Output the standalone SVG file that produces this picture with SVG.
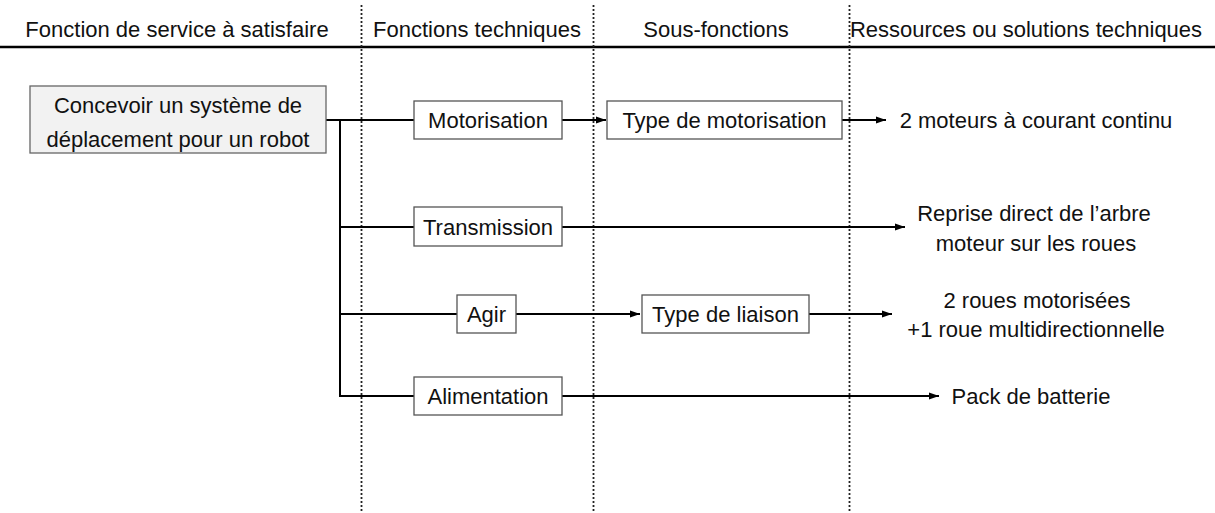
<svg xmlns="http://www.w3.org/2000/svg" width="1215" height="513" viewBox="0 0 1215 513">
<style>
text{font-family:"Liberation Sans",Arial,sans-serif;font-size:22px;fill:#111;text-anchor:middle}
.box{fill:#fff;stroke:#555;stroke-width:1.3}
.main{fill:#f2f2f2;stroke:#666;stroke-width:1.3}
.dot{stroke:#222;stroke-width:1.8;stroke-dasharray:2 2;fill:none}
.con{stroke:#000;stroke-width:2;fill:none}
</style>
<defs>
<marker id="ah" viewBox="0 0 10 10" refX="10" refY="5" markerWidth="10" markerHeight="10" markerUnits="userSpaceOnUse" orient="auto">
<path d="M0,1.5 L10,5 L0,8.5 z" fill="#000"/>
</marker>
</defs>
<g id="header">
<line x1="0" y1="47" x2="1215" y2="47" stroke="#000" stroke-width="2.5"/>
<text x="177" y="37">Fonction de service à satisfaire</text>
<text x="477" y="37">Fonctions techniques</text>
<text x="716" y="37">Sous-fonctions</text>
<text x="1026" y="37">Ressources ou solutions techniques</text>
</g>
<g id="separators">
<line class="dot" x1="361.5" y1="5" x2="361.5" y2="513"/>
<line class="dot" x1="593.5" y1="5" x2="593.5" y2="513"/>
<line class="dot" x1="849.5" y1="5" x2="849.5" y2="513"/>
</g>
<g id="connectors">
<polyline class="con" points="326,120 414,120"/>
<polyline class="con" points="340,120 340,396 414,396"/>
<line class="con" x1="340" y1="227" x2="414" y2="227"/>
<line class="con" x1="340" y1="314" x2="457" y2="314"/>
<line class="con" x1="562" y1="120" x2="606" y2="120" marker-end="url(#ah)"/>
<line class="con" x1="842" y1="120" x2="886" y2="120" marker-end="url(#ah)"/>
<line class="con" x1="562" y1="227" x2="905" y2="227" marker-end="url(#ah)"/>
<line class="con" x1="516" y1="314" x2="640" y2="314" marker-end="url(#ah)"/>
<line class="con" x1="809" y1="314" x2="892" y2="314" marker-end="url(#ah)"/>
<line class="con" x1="562" y1="396" x2="939" y2="396" marker-end="url(#ah)"/>
</g>
<g id="n-concevoir">
<rect class="main" x="30" y="86" width="296" height="67"/>
<text x="178" y="113">Concevoir un système de</text>
<text x="178" y="147">déplacement pour un robot</text>
</g>
<g id="n-motorisation">
<rect class="box" x="414" y="101" width="148" height="38"/>
<text x="488" y="128">Motorisation</text>
</g>
<g id="n-type-motorisation">
<rect class="box" x="607" y="101" width="235" height="38"/>
<text x="724.5" y="128">Type de motorisation</text>
</g>
<g id="n-moteurs">
<text x="1036" y="128">2 moteurs à courant continu</text>
</g>
<g id="n-transmission">
<rect class="box" x="414" y="207" width="148" height="39"/>
<text x="488" y="235">Transmission</text>
</g>
<g id="n-reprise">
<text x="1034" y="221">Reprise direct de l’arbre</text>
<text x="1036" y="251">moteur sur les roues</text>
</g>
<g id="n-agir">
<rect class="box" x="457" y="295" width="59" height="38"/>
<text x="486.5" y="322">Agir</text>
</g>
<g id="n-type-liaison">
<rect class="box" x="642" y="295" width="167" height="38"/>
<text x="725.5" y="322">Type de liaison</text>
</g>
<g id="n-roues">
<text x="1037" y="308">2 roues motorisées</text>
<text x="1036" y="337">+1 roue multidirectionnelle</text>
</g>
<g id="n-alimentation">
<rect class="box" x="414" y="377" width="148" height="38"/>
<text x="488" y="404">Alimentation</text>
</g>
<g id="n-pack">
<text x="1031" y="404">Pack de batterie</text>
</g>
</svg>
